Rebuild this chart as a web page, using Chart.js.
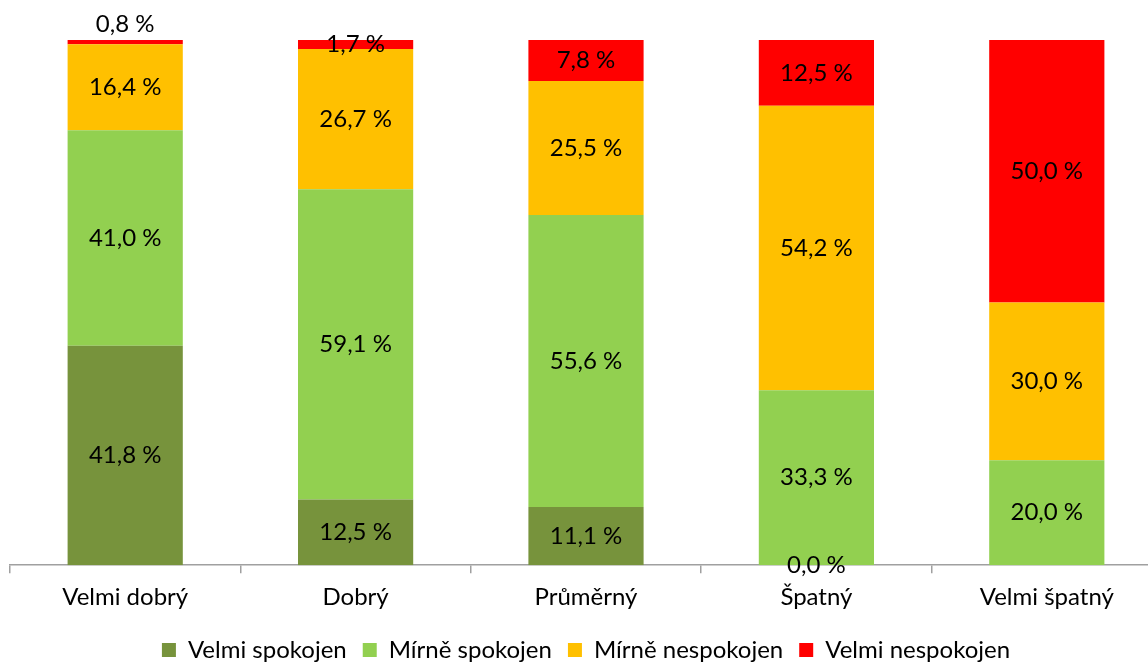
<!DOCTYPE html>
<html>
<head>
<meta charset="utf-8">
<script src="https://cdn.jsdelivr.net/npm/chart.js@4/dist/chart.umd.min.js"></script>
<style>
  html, body { margin: 0; padding: 0; overflow: hidden; background: #fff; }
  #wrap { position: relative; width: 1172px; height: 672px; }
</style>
</head>
<body>
<div id="wrap"><canvas id="chart" width="1172" height="672"></canvas></div>
<script>
// kategorie a hodnoty (v %)
const categories = ['Velmi dobrý', 'Dobrý', 'Průměrný', 'Špatný', 'Velmi špatný'];
const velmiSpokojen = [41.8, 12.5, 11.1, 0.0, null];
const mirneSpokojen = [41.0, 59.1, 55.6, 33.3, 20.0];
const mirneNespokojen = [16.4, 26.7, 25.5, 54.2, 30.0];
const velmiNespokojen = [0.8, 1.7, 7.8, 12.5, 50.0];

const fontFamily = 'Lato, "Open Sans", sans-serif';

// popisky hodnot uvnitř sloupců
const valueLabels = {
    id: 'valueLabels',
    afterDatasetsDraw(chart) {
        const ctx = chart.ctx;
        ctx.save();
        ctx.font = '24px ' + fontFamily;
        ctx.fillStyle = '#000';
        ctx.textAlign = 'center';
        ctx.textBaseline = 'middle';
        chart.data.datasets.forEach((ds, i) => {
            const meta = chart.getDatasetMeta(i);
            meta.data.forEach((bar, j) => {
                const v = ds.data[j];
                if (v === null || v === undefined) return;
                const txt = v.toFixed(1).replace('.', ',') + ' %';
                let y = (bar.y + bar.base) / 2;
                if (v < 1 && v > 0) y = bar.y - 16;
                ctx.fillText(txt, bar.x, y);
            });
        });
        ctx.restore();
    }
};

new Chart(document.getElementById('chart'), {
    type: 'bar',
    data: {
        labels: categories,
        datasets: [
            { label: 'Velmi spokojen', data: velmiSpokojen, backgroundColor: '#77933C' },
            { label: 'Mírně spokojen', data: mirneSpokojen, backgroundColor: '#92D050' },
            { label: 'Mírně nespokojen', data: mirneNespokojen, backgroundColor: '#FFC000' },
            { label: 'Velmi nespokojen', data: velmiNespokojen, backgroundColor: '#FF0000' }
        ]
    },
    options: {
        responsive: false,
        animation: false,
        categoryPercentage: 1,
        barPercentage: 0.5,
        layout: { padding: { top: 40, left: 10, right: 10, bottom: 0 } },
        scales: {
            x: {
                stacked: true,
                border: { display: true, color: '#A0A0A0', width: 1.5 },
                grid: { drawOnChartArea: false, color: '#A0A0A0', tickLength: 8, lineWidth: 1.5 },
                ticks: { color: '#000', font: { size: 24, family: fontFamily }, padding: 10 }
            },
            y: {
                stacked: true,
                display: false,
                min: 0,
                max: 100
            }
        },
        plugins: {
            legend: {
                position: 'bottom',
                labels: {
                    color: '#000',
                    font: { size: 24, family: fontFamily },
                    boxWidth: 14,
                    boxHeight: 14,
                    padding: 16
                }
            },
            tooltip: { enabled: false }
        }
    },
    plugins: [valueLabels]
});
</script>
</body>
</html>
